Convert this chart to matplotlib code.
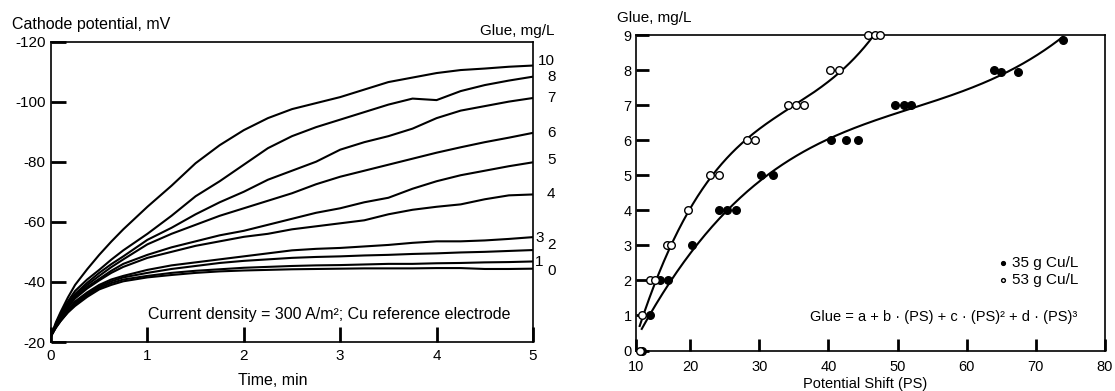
import numpy as np
import matplotlib
matplotlib.use("Agg")
import matplotlib.pyplot as plt

plt.rcParams['font.family'] = ['Liberation Sans', 'DejaVu Sans']
plt.rcParams['font.size'] = 11
plt.rcParams['axes.unicode_minus'] = False
# inward ticks on both panels
plt.rcParams['xtick.direction'] = 'in'
plt.rcParams['ytick.direction'] = 'in'
plt.rcParams['xtick.major.size'] = 11
plt.rcParams['ytick.major.size'] = 11
plt.rcParams['xtick.major.width'] = 2
plt.rcParams['ytick.major.width'] = 2
plt.rcParams['xtick.major.pad'] = 5
plt.rcParams['ytick.major.pad'] = 4

# --- left panel: cathode potential vs time for several glue levels ---
time_min = [0, 0.05, 0.1, 0.175, 0.25, 0.375, 0.5, 0.625, 0.75, 1, 1.25, 1.5,
            1.75, 2, 2.25, 2.5, 2.75, 3, 3.25, 3.5, 3.75, 4, 4.25, 4.5, 4.75, 5]

g10 = [-22, -26.5, -30, -34.8, -39, -44.2, -49, -53.4, -57.5, -65, -72, -79.5,
       -85.5, -90.5, -94.5, -97.5, -99.5, -101.5, -104, -106.5, -108, -109.5,
       -110.5, -111, -111.6, -112]
g8 = [-22, -26, -29.5, -33.5, -37, -40.8, -44, -47.4, -50.5, -56, -62, -68.5,
      -73.5, -79, -84.5, -88.5, -91.5, -94, -96.5, -99, -101, -100.5,
      -103.5, -105.5, -107, -108.3]
g7 = [-22, -25.8, -29, -32.8, -36, -39.7, -43, -45.9, -48.5, -54, -58, -62.5,
      -66.5, -70, -74, -77, -80, -84, -86.5, -88.5, -91, -94.5,
      -97, -98.5, -100, -101.2]
g6 = [-22, -25.5, -28.5, -32.2, -35.5, -39, -42, -44.9, -47.5, -52.5, -56, -59,
      -62, -64.5, -67, -69.5, -72.5, -75, -77, -79, -81, -83,
      -84.8, -86.5, -88, -89.6]
g5 = [-22, -25.3, -28, -31.7, -35, -38.3, -41, -43.7, -46, -49, -51.5, -53.5,
      -55.5, -57, -59, -61, -63, -64.5, -66.5, -68, -71, -73.5,
      -75.5, -77, -78.5, -79.8]
g4 = [-22, -25.3, -28, -31.5, -34.5, -37.8, -40.5, -43, -45, -48, -50, -52,
      -53.5, -55, -56, -57.5, -58.5, -59.5, -60.5, -62.5, -64, -65,
      -65.8, -67.5, -68.8, -69.1]
g3 = [-22, -25, -27.5, -30.8, -33.5, -36.5, -39, -40.8, -42, -44, -45.5, -46.5,
      -47.5, -48.5, -49.5, -50.5, -51, -51.3, -51.8, -52.3, -53, -53.5,
      -53.5, -53.8, -54.3, -54.9]
g2 = [-22, -25, -27.5, -30.5, -33, -36, -38.5, -40.2, -41.5, -43, -44.3, -45.3,
      -46.3, -47, -47.5, -48, -48.3, -48.5, -48.8, -49, -49.3, -49.5,
      -49.8, -50, -50.3, -50.6]
g1 = [-22, -24.8, -27, -30, -32.5, -35.5, -38, -39.6, -40.8, -42, -43, -43.7,
      -44.2, -44.7, -45, -45.3, -45.5, -45.6, -45.8, -46, -46, -46.2,
      -46.3, -46.5, -46.6, -46.8]
g0 = [-22, -24.7, -27, -29.8, -32, -35, -37.5, -39, -40.2, -41.5, -42.3, -43,
      -43.5, -43.8, -44, -44.2, -44.3, -44.4, -44.5, -44.5, -44.5, -44.6,
      -44.6, -44.3, -44.3, -44.4]

curves = [g10, g8, g7, g6, g5, g4, g3, g2, g1, g0]
curve_names = ['10', '8', '7', '6', '5', '4', '3', '2', '1', '0']
# where each glue label sits to the right of the frame
label_x = [5.14, 5.19, 5.19, 5.19, 5.19, 5.19, 5.07, 5.19, 5.06, 5.19]
label_y = [-113.5, -108.2, -101.3, -89.7, -80.7, -69.1, -54.5, -52.3, -46.5, -43.5]

# --- right panel: glue vs potential shift ---
ps_35 = [13.0, 14.2, 15.6, 16.8, 20.2, 24.1, 25.3, 26.6, 30.3, 32.0,
         40.4, 42.6, 44.3, 49.6, 51.0, 52.0, 64.0, 65.0, 67.4, 73.9]
glue_35 = [0, 1, 2, 2, 3, 4, 4, 4, 5, 5,
           6, 6, 6, 7, 7, 7, 8, 7.95, 7.95, 8.87]
ps_53 = [12.7, 13.0, 14.2, 14.9, 16.6, 17.3, 19.7, 22.9, 24.1, 28.2, 29.4,
         34.2, 35.3, 36.4, 40.2, 41.6, 45.7, 46.7, 47.5]
glue_53 = [0, 1, 2, 2, 3, 3, 4, 5, 5, 6, 6,
           7, 7, 7, 8, 8, 9, 9, 9]

W, H = 1115, 391
fig = plt.figure(figsize=(W / 100, H / 100), dpi=100)


def fx(px):
    return px / W


def fy(py):
    return 1 - py / H


# left axes
ax1 = fig.add_axes([fx(51), fy(342), fx(533) - fx(51), fy(41.5) - fy(342)])
for vals in curves:
    ax1.plot(time_min, vals, color='black', lw=1.5, solid_capstyle='round')
ax1.set_xlim(0, 5)
ax1.set_ylim(-20, -120)
ax1.set_xticks([0, 1, 2, 3, 4, 5])
ax1.set_yticks([-120, -100, -80, -60, -40, -20])
for sp in ax1.spines.values():
    sp.set_linewidth(1.2)
for name, x, y in zip(curve_names, label_x, label_y):
    ax1.text(x, y, name, ha='center', va='center', fontsize=11, clip_on=False)
ax1.text(2.89, -29, 'Current density = 300 A/m\u00b2; Cu reference electrode',
         ha='center', va='center', fontsize=11.5)
ax1.text(2.3, -7.1, 'Time, min', ha='center', va='center', fontsize=11.5)
fig.text(fx(12), fy(25), 'Cathode potential, mV', ha='left', va='center', fontsize=11.5)
fig.text(fx(517), fy(31), 'Glue, mg/L', ha='center', va='center', fontsize=11)

# right axes
plt.rcParams['xtick.major.pad'] = 7
plt.rcParams['ytick.major.pad'] = 3
plt.rcParams['xtick.major.size'] = 9
plt.rcParams['ytick.major.size'] = 9
ax2 = fig.add_axes([fx(636), fy(350.5), fx(1105) - fx(636), fy(35.3) - fy(350.5)])
ps_lo = 10 + (636 - 621) / 6.92
ax2.set_xlim(ps_lo, 80)
ax2.set_ylim(0, 9)

for ps, glue in [(ps_35, glue_35), (ps_53, glue_53)]:
    coef = np.polyfit(ps, glue, 3)
    xs = np.linspace(min(ps), max(ps), 300)
    ax2.plot(xs, np.polyval(coef, xs), color='black', lw=1.5)

s35 = ax2.scatter(ps_35, glue_35, s=30, color='black', zorder=3, clip_on=False,
                  label='35 g Cu/L')
s53 = ax2.scatter(ps_53, glue_53, s=30, facecolor='white', edgecolor='black',
                  linewidth=1, zorder=3, clip_on=False, label='53 g Cu/L')

ax2.set_xticks([ps_lo, 20, 30, 40, 50, 60, 70, 80])
ax2.set_xticklabels(['10', '20', '30', '40', '50', '60', '70', '80'], fontsize=10.5)
ax2.set_yticks(range(10))
ax2.set_yticklabels([str(i) for i in range(10)], fontsize=10.5)
for sp in ax2.spines.values():
    sp.set_linewidth(1.2)
fig.text(fx(865), fy(384), 'Potential Shift (PS)', ha='center', va='center',
         fontsize=10.5)
fig.text(fx(617), fy(18), 'Glue, mg/L', ha='left', va='center', fontsize=11)

ax2.legend(handles=[s35, s53], loc='upper left', frameon=False,
           bbox_to_anchor=(fx(988), fy(248)), bbox_transform=fig.transFigure,
           borderpad=0, handletextpad=0.1, labelspacing=0.2,
           markerscale=0.5, fontsize=11, handlelength=1)
ax2.text(56.7, 0.95, 'Glue = a + b \u00b7 (PS) + c \u00b7 (PS)\u00b2 + d \u00b7 (PS)\u00b3',
         ha='center', va='center', fontsize=10.5)

fig.savefig('out.png', dpi=100)
